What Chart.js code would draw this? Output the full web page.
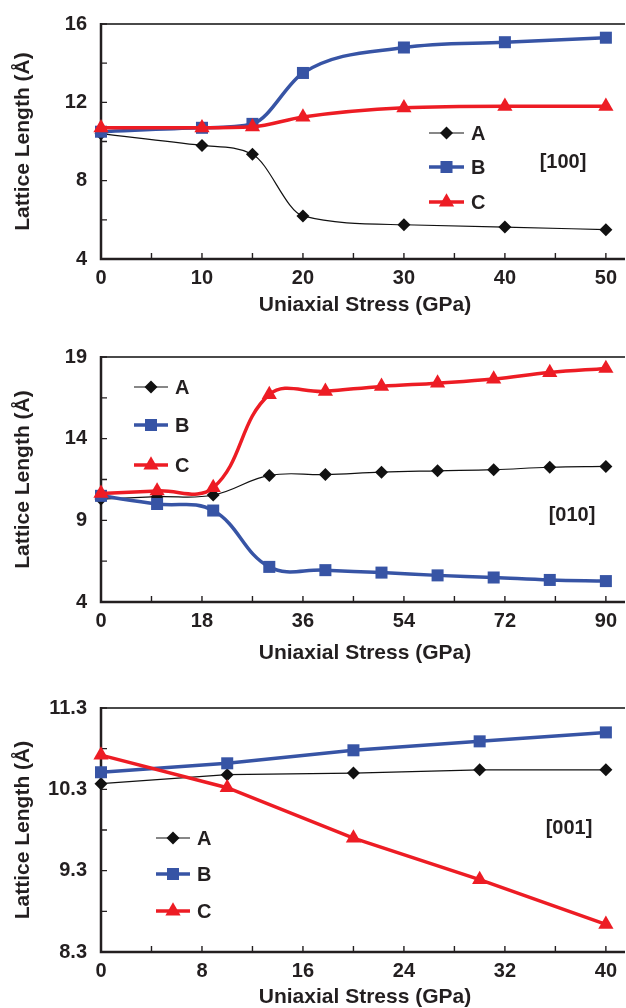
<!DOCTYPE html>
<html>
<head>
<meta charset="utf-8">
<script src="https://cdn.jsdelivr.net/npm/chart.js@4.4.1/dist/chart.umd.min.js"></script>
<style>
  html, body { margin: 0; padding: 0; background: #fff; }
  #wrap { position: relative; width: 626px; height: 1008px; overflow: hidden; }
  canvas { position: absolute; left: 0; }
</style>
</head>
<body>
<div id="wrap">
  <canvas id="c100" width="626" height="330" style="top:0px"></canvas>
  <canvas id="c010" width="626" height="340" style="top:330px"></canvas>
  <canvas id="c001" width="626" height="338" style="top:670px"></canvas>
</div>
<script>
// [100] stress
const stress100 = [0, 10, 15, 20, 30, 40, 50];
const a100 = [10.4, 9.8, 9.35, 6.2, 5.75, 5.63, 5.5];
const b100 = [10.5, 10.7, 10.9, 13.5, 14.8, 15.07, 15.3];
const c100 = [10.7, 10.7, 10.75, 11.25, 11.72, 11.8, 11.8];
const xTicks100 = [0, 5, 10, 15, 20, 25, 30, 35, 40, 45, 50];
const xLabels100 = [0, 10, 20, 30, 40, 50];
const yTicks100 = [4, 6, 8, 10, 12, 14, 16];
const yLabels100 = [4, 8, 12, 16];

// [010] stress
const stress010 = [0, 10, 20, 30, 40, 50, 60, 70, 80, 90];
const a010 = [10.3, 10.45, 10.55, 11.75, 11.8, 11.95, 12.03, 12.1, 12.25, 12.3];
const b010 = [10.5, 10.0, 9.6, 6.15, 5.95, 5.8, 5.63, 5.5, 5.35, 5.28];
const c010 = [10.65, 10.8, 11.0, 16.7, 16.9, 17.2, 17.4, 17.65, 18.05, 18.3];
const xTicks010 = [0, 9, 18, 27, 36, 45, 54, 63, 72, 81, 90];
const xLabels010 = [0, 18, 36, 54, 72, 90];
const yTicks010 = [4, 6.5, 9, 11.5, 14, 16.5, 19];
const yLabels010 = [4, 9, 14, 19];

// [001] stress
const stress001 = [0, 10, 20, 30, 40];
const a001 = [10.37, 10.48, 10.5, 10.54, 10.54];
const b001 = [10.51, 10.62, 10.78, 10.89, 11.0];
const c001 = [10.72, 10.32, 9.7, 9.19, 8.64];
const xTicks001 = [0, 4, 8, 12, 16, 20, 24, 28, 32, 36, 40];
const xLabels001 = [0, 8, 16, 24, 32, 40];
const yTicks001 = [8.3, 8.8, 9.3, 9.8, 10.3, 10.8, 11.3];
const yLabels001 = [8.3, 9.3, 10.3, 11.3];

const names = ['A', 'B', 'C'];
const xTitle = 'Uniaxial Stress (GPa)';
const yTitle = 'Lattice Length (Å)';

const FONT = "'Liberation Sans', Arial, Helvetica, sans-serif";
const INK = '#231f20';
Chart.defaults.font.family = FONT;
Chart.defaults.color = INK;

const styles = [
  { color: '#111111', width: 1.2, point: 'rectRot', r: 6.5 },
  { color: '#3754a5', width: 3.5, point: 'rect', r: 8.5 },
  { color: '#ed1c24', width: 3.5, point: 'triangle', r: 8.8 }
];

function marker(ctx, kind, x, y, r) {
  ctx.beginPath();
  if (kind === 'rectRot') {
    ctx.moveTo(x, y - r); ctx.lineTo(x + r, y); ctx.lineTo(x, y + r); ctx.lineTo(x - r, y);
  } else if (kind === 'rect') {
    const s = r * Math.SQRT1_2;
    ctx.rect(x - s, y - s, 2 * s, 2 * s);
  } else {
    ctx.moveTo(x, y - r);
    ctx.lineTo(x + r * 0.866, y + r * 0.5);
    ctx.lineTo(x - r * 0.866, y + r * 0.5);
  }
  ctx.closePath();
  ctx.fill();
}

const framePlugin = {
  id: 'frame',
  beforeDatasetsDraw(chart) {
    const { ctx, chartArea: a, scales: { x, y } } = chart;
    ctx.save();
    ctx.lineCap = 'butt';
    ctx.strokeStyle = '#4a4a4a';
    ctx.lineWidth = 2;
    ctx.beginPath(); ctx.moveTo(a.left, a.top); ctx.lineTo(chart.width - 1, a.top); ctx.stroke();
    ctx.strokeStyle = INK;
    ctx.lineWidth = 2.5;
    ctx.beginPath();
    ctx.moveTo(a.left, a.top - 1); ctx.lineTo(a.left, a.bottom);
    ctx.lineTo(chart.width - 1, a.bottom);
    ctx.stroke();
    ctx.lineWidth = 1.4;
    ctx.beginPath();
    x.ticks.forEach(t => {
      const px = x.getPixelForValue(t.value);
      ctx.moveTo(px, a.bottom); ctx.lineTo(px, a.bottom - 6);
    });
    y.ticks.forEach(t => {
      const py = y.getPixelForValue(t.value);
      ctx.moveTo(a.left, py); ctx.lineTo(a.left + 6, py);
    });
    ctx.stroke();
    ctx.restore();
  },
  afterDraw(chart, args, opts) {
    const { ctx } = chart;
    const lg = opts.legend;
    ctx.save();
    chart.data.datasets.forEach((ds, i) => {
      const st = styles[i];
      const yy = lg.ys[i];
      ctx.strokeStyle = st.color;
      ctx.fillStyle = st.color;
      ctx.lineWidth = st.width;
      ctx.beginPath(); ctx.moveTo(lg.x0, yy); ctx.lineTo(lg.x1, yy); ctx.stroke();
      marker(ctx, st.point, (lg.x0 + lg.x1) / 2, yy, st.r);
      ctx.fillStyle = INK;
      ctx.font = 'bold 20px ' + FONT;
      ctx.textBaseline = 'middle';
      ctx.textAlign = 'left';
      ctx.fillText(ds.label, lg.x1 + 7, yy + 1);
    });
    ctx.fillStyle = INK;
    ctx.textAlign = 'center';
    ctx.textBaseline = 'middle';
    ctx.font = 'bold 20px ' + FONT;
    ctx.fillText(opts.tag.text, opts.tag.x, opts.tag.y);
    // x axis title, set a little right of the plot centre as in the figure
    ctx.font = 'bold 21px ' + FONT;
    ctx.fillText(xTitle, opts.xTitle.x, opts.xTitle.y);
    ctx.restore();
  }
};

function makeChart(id, c) {
  const H = c.H;
  const series = c.series.map((vals, i) => ({
    label: names[i],
    data: c.xs.map((x, j) => ({ x: x, y: vals[j] })),
    borderColor: styles[i].color,
    backgroundColor: styles[i].color,
    borderWidth: styles[i].width,
    pointStyle: styles[i].point,
    pointRadius: styles[i].r,
    pointBorderWidth: 0,
    pointBackgroundColor: styles[i].color,
    tension: c.tension,
    cubicInterpolationMode: c.mode,
    clip: false,
    order: 2 - i
  }));
  return new Chart(document.getElementById(id), {
    type: 'line',
    data: { datasets: series },
    plugins: [framePlugin],
    options: {
      responsive: false,
      animation: false,
      devicePixelRatio: 1,
      events: [],
      layout: { padding: { top: c.top, right: 626 - c.right, left: 0, bottom: 0 } },
      plugins: {
        legend: { display: false },
        tooltip: { enabled: false },
        frame: { legend: c.legend, tag: c.tag, xTitle: c.xTitle }
      },
      scales: {
        x: {
          type: 'linear',
          min: c.xs[0],
          max: c.xs[c.xs.length - 1],
          afterFit: s => { s.height = H - c.bottom; },
          afterBuildTicks: s => { s.ticks = c.xTicks.map(v => ({ value: v })); },
          grid: { display: false, drawTicks: false },
          border: { display: false },
          ticks: {
            autoSkip: false, maxRotation: 0, padding: 9,
            font: { size: 20, weight: 'bold', lineHeight: 1 },
            callback: v => c.xLabels.includes(v) ? String(v) : ''
          },
          title: { display: false }
        },
        y: {
          min: c.yTicks[0],
          max: c.yTicks[c.yTicks.length - 1],
          afterFit: s => { s.width = 101; },
          afterBuildTicks: s => { s.ticks = c.yTicks.map(v => ({ value: v })); },
          grid: { display: false, drawTicks: false },
          border: { display: false },
          ticks: {
            autoSkip: false, padding: 14,
            font: { size: 20, weight: 'bold', lineHeight: 1 },
            callback: v => c.yLabels.includes(v) ? String(v) : ''
          },
          title: {
            display: true, text: yTitle,
            font: { size: 21, weight: 'bold', lineHeight: 1 },
            padding: { top: 13, bottom: 0 }
          }
        }
      }
    }
  });
}

makeChart('c100', {
  H: 330, top: 20.5, bottom: 259, right: 608,
  xs: stress100, series: [a100, b100, c100],
  xTicks: xTicks100, xLabels: xLabels100, yTicks: yTicks100, yLabels: yLabels100,
  tension: 0.4, mode: 'monotone',
  legend: { x0: 429, x1: 464, ys: [133, 167, 202] },
  tag: { text: '[100]', x: 563, y: 162 },
  xTitle: { x: 365, y: 305 }
});

makeChart('c010', {
  H: 340, top: 27, bottom: 272, right: 613,
  xs: stress010, series: [a010, b010, c010],
  xTicks: xTicks010, xLabels: xLabels010, yTicks: yTicks010, yLabels: yLabels010,
  tension: 0.4, mode: 'default',
  legend: { x0: 134, x1: 168, ys: [57, 95, 135] },
  tag: { text: '[010]', x: 572, y: 185 },
  xTitle: { x: 365, y: 323 }
});

makeChart('c001', {
  H: 338, top: 38, bottom: 282, right: 614,
  xs: stress001, series: [a001, b001, c001],
  xTicks: xTicks001, xLabels: xLabels001, yTicks: yTicks001, yLabels: yLabels001,
  tension: 0, mode: 'default',
  legend: { x0: 156, x1: 190, ys: [168, 204, 241] },
  tag: { text: '[001]', x: 569, y: 158 },
  xTitle: { x: 365, y: 327 }
});
</script>
</body>
</html>
